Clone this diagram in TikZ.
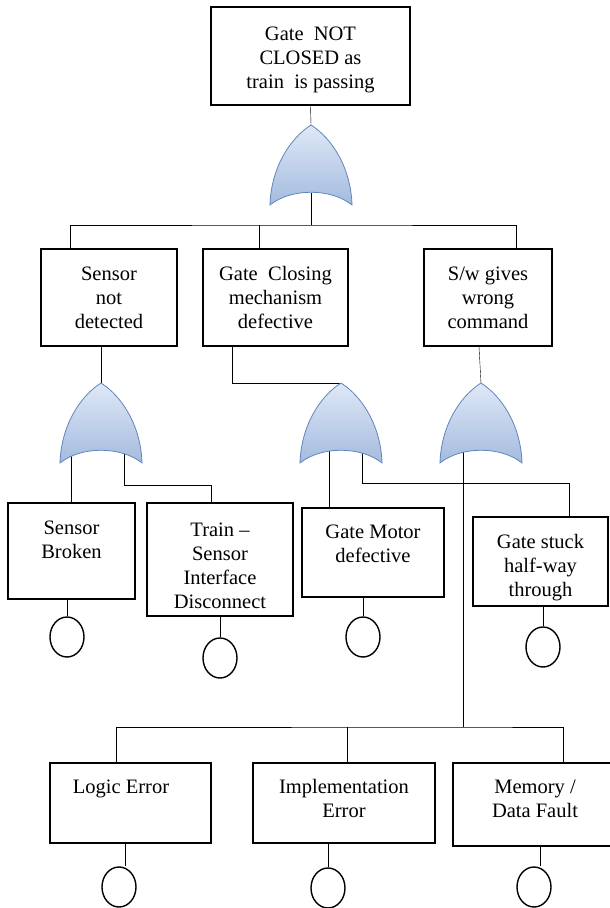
\documentclass[tikz,border=0pt]{standalone}
\usepackage{fontspec}
\setmainfont{Liberation Serif}
\usetikzlibrary{shapes.geometric,backgrounds}
\definecolor{gatetop}{RGB}{223,232,246}
\definecolor{gatebot}{RGB}{164,187,223}
\definecolor{gateline}{RGB}{98,133,188}
\newcommand{\lift}[1]{\rule[-#1pt]{0pt}{0pt}}
\newcommand{\drop}[1]{\rule{0pt}{#1pt}}
\tikzset{
  box/.style={draw, line width=1.6pt, align=center, inner sep=2pt,
    font=\fontsize{20.5}{24}\selectfont},
  basic/.style={ellipse, draw, line width=1.4pt, inner sep=0pt,
    minimum width=34, minimum height=40},
  orgate/.pic={
    \shadedraw[top color=gatetop, bottom color=gatebot, draw=gateline, line width=0.8pt]
      (0,0) .. controls (-22,14) and (-40,44) .. (-41,80)
      .. controls (-20,63) and (20,63) .. (41,80)
      .. controls (40,44) and (22,14) .. (0,0) -- cycle;
    \coordinate (-tip) at (0,0);
    \coordinate (-base) at (0,68);
  }
}

\begin{document}
\begin{tikzpicture}[x=1pt, y=-1pt, line width=1.8pt]
\useasboundingbox (0,0) rectangle (610,908);
\clip (0,0) rectangle (610,908);

% top event
\node[box, minimum width=199, minimum height=98] (top) at (310.5,56) {\drop{22}Gate\ \ NOT\\CLOSED as\\train\ \ is passing};

% intermediate events
\node[box, minimum width=136, minimum height=97] (sensor) at (109,297.5) {Sensor\\not\\detected};
\node[box, minimum width=145, minimum height=97] (closing) at (275.5,297.5) {Gate\ \ Closing\\mechanism\\defective};
\node[box, minimum width=128, minimum height=97] (sw) at (488,297.5) {S/w gives\\wrong\\command};

\node[box, minimum width=127, minimum height=96] (broken) at (71.5,551) {Sensor\\Broken\lift{22}};
\node[box, minimum width=146, minimum height=113] (iface) at (220,559.5) {\drop{27}Train --\\Sensor\\Interface\\Disconnect};
\node[box, minimum width=142, minimum height=89] (motor) at (373,552.5) {Gate Motor\\defective\lift{18}};
\node[box, minimum width=135, minimum height=89] (stuck) at (540.5,561.5) {\drop{27}Gate stuck\\half-way\\through};

\node[box, minimum width=161, minimum height=80] (logic) at (130.5,803) {Logic Error\hspace*{19pt}\lift{32}};
\node[box, minimum width=182, minimum height=80] (impl) at (344,803) {Implementation\\Error\lift{10}};
\node[box, minimum width=164, minimum height=83] (memory) at (535,804.5) {Memory /\\Data Fault\lift{12}};

% basic events
\node[basic] (e1) at (67,637) {};
\node[basic] (e2) at (220,658) {};
\node[basic] (e3) at (363,637) {};
\node[basic] (e4) at (543,647) {};
\node[basic] (e5) at (119,887) {};
\node[basic] (e6) at (328,888) {};
\node[basic] (e7) at (534,887) {};

% or gates
\pic (g1) at (311,125) {orgate};
\pic (g2) at (101,383) {orgate};
\pic (g3) at (341,383) {orgate};
\pic (g4) at (481,383) {orgate};

\coordinate (bus1) at (311,225);
\coordinate (j2) at (124,485);
\coordinate (j3) at (569,483);
\coordinate (bus2) at (463,727);

\begin{scope}[on background layer]
\draw (top.south) -- (g1-tip);
\draw (g1-base) -- (bus1);
\draw ([xshift=-39pt]sensor.north) |- (bus1) -| ([xshift=28pt]sw.north);
\draw ([xshift=-16.5pt]closing.north) -- ([xshift=-16.5pt]closing.north |- bus1);

\draw (g2-tip |- sensor.south) -- (g2-tip);
\draw (broken.north |- g2-base) -- (broken.north);
\draw ([xshift=23pt]g2-base) -- (j2) -| ([xshift=-9pt]iface.north);

\draw ([xshift=-43.5pt]closing.south) |- (g3-tip);
\draw ([xshift=-12pt]g3-base) -- ([xshift=-12pt]g3-base |- motor.north);
\draw ([xshift=21pt]g3-base) |- (j3) -- (j3 |- stuck.north);

\draw ([xshift=-9pt]sw.south) -- (g4-tip);
\draw ([xshift=-18pt]g4-base) -- (bus2);
\draw ([xshift=-14.5pt]logic.north) |- (bus2) -| ([xshift=28pt]memory.north);
\draw ([xshift=3pt]impl.north) -- ([xshift=3pt]impl.north |- bus2);

\draw (e1.north |- broken.south) -- (e1.north);
\draw (e2.north |- iface.south) -- (e2.north);
\draw (e3.north |- motor.south) -- (e3.north);
\draw (e4.north |- stuck.south) -- (e4.north);
\draw ([xshift=6pt]e5.north |- logic.south) -- ([xshift=6pt]e5.north);
\draw (e6.north |- impl.south) -- (e6.north);
\draw ([xshift=6pt]e7.north |- memory.south) -- ([xshift=6pt]e7.north);
\end{scope}
\end{tikzpicture}
\end{document}
